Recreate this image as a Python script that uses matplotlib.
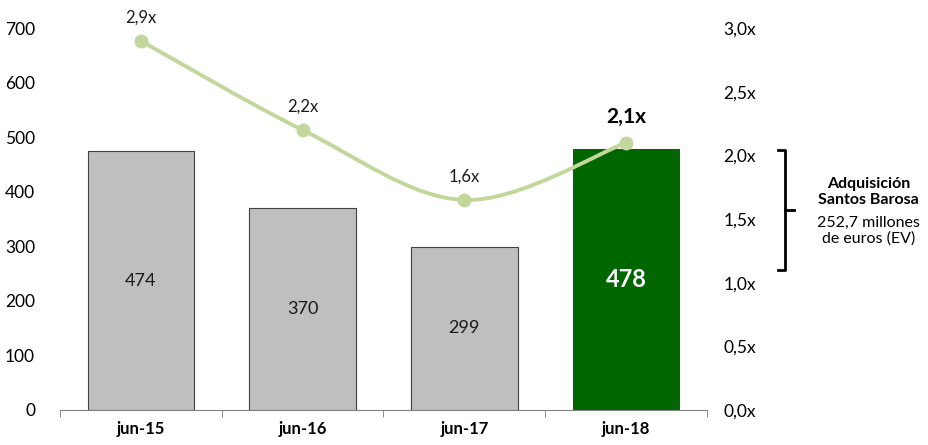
import matplotlib.pyplot as plt
import numpy as np
from matplotlib.path import Path
from matplotlib.patches import PathPatch

plt.rcParams['font.family'] = ['Lato', 'DejaVu Sans']

# Data
periods = ['jun-15', 'jun-16', 'jun-17', 'jun-18']
debt = [474, 370, 299, 478]
ratio = [2.9, 2.2, 1.65, 2.1]
ratio_labels = ['2,9x', '2,2x', '1,6x', '2,1x']
left_ticks = [0, 100, 200, 300, 400, 500, 600, 700]
right_ticks = [0.0, 0.5, 1.0, 1.5, 2.0, 2.5, 3.0]

bar_colors = ['#bfbfbf', '#bfbfbf', '#bfbfbf', '#006600']
line_color = '#c3d69b'

fig = plt.figure(figsize=(9.29, 4.45), dpi=100)
ax = fig.add_axes([0.0646, 0.0787, 0.6964, 0.858])
x = np.arange(len(periods))

ax.bar(x, debt, width=0.66, color=bar_colors, edgecolor='#404040', linewidth=0.8, zorder=2)
for i, v in enumerate(debt):
    if i == 3:
        ax.text(i, v / 2, str(v), ha='center', va='center', fontsize=17,
                fontweight='bold', color='white', zorder=3)
    else:
        ax.text(i, v / 2, str(v), ha='center', va='center', fontsize=13,
                color='#1a1a1a', zorder=3)

ax.set_xlim(-0.5, 3.5)
ax.set_ylim(0, 700)
ax.set_yticks(left_ticks)
ax.set_xticks(x)
ax.set_xticklabels(periods, fontsize=12, fontweight='bold')
ax.set_xticks([-0.5, 0.5, 1.5, 2.5, 3.5], minor=True)
ax.tick_params(axis='x', which='major', length=0, pad=8)
ax.tick_params(axis='x', which='minor', length=5, color='#808080', direction='out')
ax.tick_params(axis='y', length=0, labelsize=12.5, pad=18)
for s in ['left', 'right', 'top']:
    ax.spines[s].set_visible(False)
ax.spines['bottom'].set_color('#808080')

ax2 = ax.twinx()
ax2.set_ylim(0, 3.0)
ax2.set_yticks(right_ticks)
ax2.set_yticklabels([f'{t:.1f}x'.replace('.', ',') for t in right_ticks])
ax2.tick_params(axis='y', length=0, labelsize=12.5, pad=12)
for s in ['left', 'right', 'top', 'bottom']:
    ax2.spines[s].set_visible(False)

# smoothed line (Catmull-Rom style Bezier)
px = np.array(x, dtype=float)
py = np.array(ratio, dtype=float)
verts = [(px[0], py[0])]
codes = [Path.MOVETO]
n = len(px)
for i in range(n - 1):
    p0 = (px[max(i - 1, 0)], py[max(i - 1, 0)])
    p1 = (px[i], py[i])
    p2 = (px[i + 1], py[i + 1])
    p3 = (px[min(i + 2, n - 1)], py[min(i + 2, n - 1)])
    c1 = (p1[0] + (p2[0] - p0[0]) / 6, p1[1] + (p2[1] - p0[1]) / 6)
    c2 = (p2[0] - (p3[0] - p1[0]) / 6, p2[1] - (p3[1] - p1[1]) / 6)
    verts += [c1, c2, p2]
    codes += [Path.CURVE4] * 3
ax2.add_patch(PathPatch(Path(verts, codes), facecolor='none', edgecolor=line_color,
                        linewidth=2.8, zorder=4))
ax2.plot(px, py, 'o', color=line_color, markersize=9, zorder=5)

for i, (v, lab) in enumerate(zip(ratio, ratio_labels)):
    if i == 3:
        ax2.text(i, v + 0.2, lab, ha='center', va='center', fontsize=15,
                 fontweight='bold', color='black')
    else:
        ax2.text(i, v + 0.18, lab, ha='center', va='center', fontsize=12,
                 color='#1a1a1a')

# bracket
bx = 0.845
by0 = 1 - 270 / 445
by1 = 1 - 150 / 445
bm = (by0 + by1) / 2
fig.add_artist(plt.Line2D([bx - 0.008, bx, bx, bx - 0.008], [by1, by1, by0, by0],
                          color='black', linewidth=2, transform=fig.transFigure))
fig.add_artist(plt.Line2D([bx, bx + 0.01], [bm, bm], color='black', linewidth=2,
                          transform=fig.transFigure))
fig.text(0.935, 1 - 192 / 445, 'Adquisición\nSantos Barosa', ha='center', va='center',
         fontsize=11.5, fontweight='bold', linespacing=1.15)
fig.text(0.935, 1 - 231 / 445, '252,7 millones\nde euros (EV)', ha='center', va='center',
         fontsize=11.5, linespacing=1.15)

fig.savefig('out.png', dpi=100)
